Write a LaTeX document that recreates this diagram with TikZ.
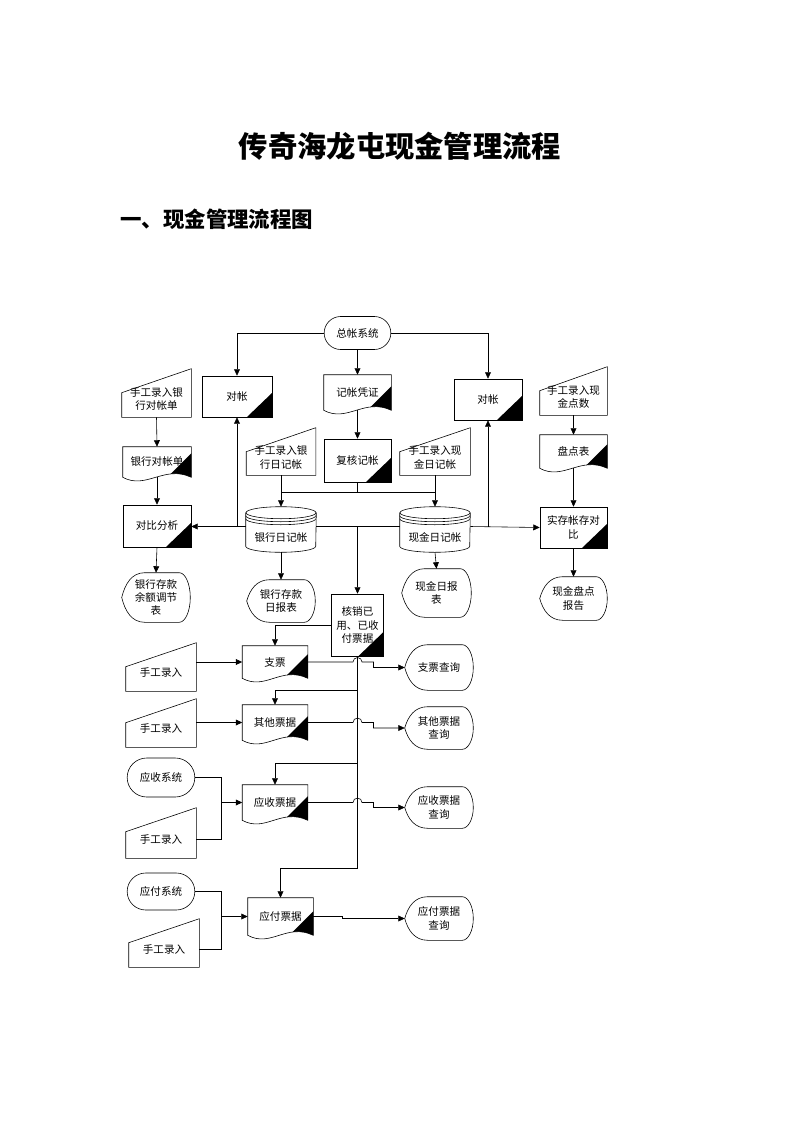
\documentclass[tikz,border=0pt]{standalone}
\usepackage{fontspec}
\setmainfont{Noto Sans CJK SC}
\usetikzlibrary{arrows.meta,calc,shapes.misc}

\tikzset{
  sz/.style 2 args={minimum width=#1*0.03cm, minimum height=#2*0.03cm},
  box/.style={rectangle, inner sep=1pt, align=center, font=\fontsize{9}{11.4}\selectfont},
  proc/.style={box, draw, path picture={\fill (path picture bounding box.south east) -- ++(-0.75cm,0cm) -- ++(0.75cm,0.72cm) -- cycle;}},
  term/.style={box, draw, rounded rectangle},
  disk/.style={box, sz={70}{39}, text height=9mm, text depth=0.3mm},
  arr/.style={-{Triangle[length=5.5pt,width=5pt]}},
}

% outlines drawn round plain named nodes
\newcommand\docpath[1]{(#1.south west) -- (#1.north west) -- (#1.north east) -- (#1.south east)
  .. controls ($(#1.south east)+(-0.8cm,0.38cm)$) and ($(#1.south west)+(0.7cm,-0.38cm)$) .. (#1.south west) -- cycle}
\newcommand\docshape[1]{%
  \begin{scope}
    \clip \docpath{#1};
    \fill ($(#1.south east)+(0cm,0.72cm)$) -- ++(-1.5cm,-1.5cm) -- ++(1.6cm,0cm) -- ++(0cm,1.5cm) -- cycle;
  \end{scope}
  \draw \docpath{#1};}
\newcommand\manshape[1]{\draw (#1.south west) -- (#1.south east) -- ($(#1.north east)+(0cm,0.36cm)$) -- ($(#1.north west)+(0cm,-0.36cm)$) -- cycle;}
\newcommand\dispshape[1]{%
  \draw (#1.west) .. controls ($(#1.west)!0.55!(#1.north west)+(0.1cm,0cm)$) and ($(#1.north west)+(0.3cm,0cm)$) .. ($(#1.north west)+(0.69cm,0cm)$)
    -- ($(#1.north east)+(-0.33cm,0cm)$)
    .. controls ($(#1.north east)+(-0.15cm,0cm)$) and ($(#1.east)!0.55!(#1.north east)$) .. (#1.east)
    .. controls ($(#1.east)!0.55!(#1.south east)$) and ($(#1.south east)+(-0.15cm,0cm)$) .. ($(#1.south east)+(-0.33cm,0cm)$)
    -- ($(#1.south west)+(0.69cm,0cm)$)
    .. controls ($(#1.south west)+(0.3cm,0cm)$) and ($(#1.west)!0.55!(#1.south west)+(0.1cm,0cm)$) .. (#1.west) -- cycle;}
\newcommand\diskshape[1]{%
  \draw ($(#1.north west)+(0cm,-0.18cm)$) -- (#1.south west) arc[start angle=180, end angle=360, x radius=1.05cm, y radius=0.18cm] -- ($(#1.north east)+(0cm,-0.18cm)$);
  \draw ($(#1.north)+(0cm,-0.18cm)$) ellipse [x radius=1.05cm, y radius=0.18cm];
  \draw ($(#1.north west)+(0cm,-0.27cm)$) arc[start angle=180, end angle=360, x radius=1.05cm, y radius=0.18cm];
  \draw ($(#1.north west)+(0cm,-0.36cm)$) arc[start angle=180, end angle=360, x radius=1.05cm, y radius=0.18cm];}

\begin{document}
\begin{tikzpicture}[x=0.03cm, y=-0.03cm, line width=0.5pt]
	\useasboundingbox (0,0) rectangle (800,1132);
	\node[font=\fontsize{25}{30}\selectfont\bfseries] (title) at (400,146) {传奇海龙屯现金管理流程};
	\node[anchor=west, inner sep=0pt, font=\fontsize{18.3}{22}\selectfont\bfseries] (subtitle) at (120,219) {一、现金管理流程图};

	% top row
	\node[term, sz={69}{33}] (zz) at (357.5,333) {总帐系统};
	\node[proc, sz={70}{41}] (dz1) at (237,396.5) {对帐};
	\node[box, sz={67}{35}] (pz) at (357.5,392.5) {记帐凭证}; \docshape{pz}
	\node[proc, sz={68}{41}] (dz2) at (488,399.5) {对帐};
	\node[box, sz={69}{36}] (sg1) at (156.5,399) {手工录入银\\行对帐单}; \manshape{sg1}
	\node[box, sz={67}{36}] (sgxd) at (573.5,397) {手工录入现\\金点数}; \manshape{sgxd}

	% journals
	\node[box, sz={68}{30}] (yhd) at (157,462) {银行对帐单}; \docshape{yhd}
	\node[box, sz={69}{35}] (sgyh) at (281,457.5) {手工录入银\\行日记帐}; \manshape{sgyh}
	\node[proc, sz={67}{43}] (fh) at (357.5,460.5) {复核记帐};
	\node[box, sz={70}{35}] (sgxj) at (435,457.5) {手工录入现\\金日记帐}; \manshape{sgxj}
	\node[box, sz={67}{33}] (pdb) at (573.5,451.5) {盘点表}; \docshape{pdb}
	\node[proc, sz={68}{42}] (dbfx) at (157,526) {对比分析};
	\node[disk] (yhr) at (281,526.5) {银行日记帐}; \diskshape{yhr}
	\node[disk] (xjr) at (435,526.5) {现金日记帐}; \diskshape{xjr}
	\node[proc, sz={67}{41}] (sc) at (573.5,527.5) {实存帐存对\\比};

	% reports
	\node[box, sz={68}{49}] (yhye) at (156,597.5) {银行存款\\余额调节\\表}; \dispshape{yhye}
	\node[box, sz={68}{42}] (yhrb) at (281,601) {银行存款\\日报表}; \dispshape{yhrb}
	\node[box, sz={69}{48}] (xjrb) at (436.5,593) {现金日报\\表}; \dispshape{xjrb}
	\node[box, sz={67}{43}] (xjpd) at (573.5,598.5) {现金盘点\\报告}; \dispshape{xjpd}
	\node[proc, sz={52}{62}] (hx) at (357.5,625) {核销已\\用、已收\\付票据};

	% bills
	\node[box, sz={65}{32}] (zp) at (275,662) {支票}; \docshape{zp}
	\node[box, sz={65}{35}] (qt) at (275,722.5) {其他票据}; \docshape{qt}
	\node[box, sz={65}{35}] (ys) at (275,802.5) {应收票据}; \docshape{ys}
	\node[box, sz={65}{37}] (yf) at (280.5,916.5) {应付票据}; \docshape{yf}
	\node[box, sz={70}{36}] (sgA) at (161,673) {手工录入}; \manshape{sgA}
	\node[box, sz={70}{36}] (sgB) at (161,729) {手工录入}; \manshape{sgB}
	\node[term, sz={70}{39}] (ysxt) at (161,777.5) {应收系统};
	\node[box, sz={70}{38}] (sgC) at (161,839) {手工录入}; \manshape{sgC}
	\node[term, sz={70}{37}] (yfxt) at (161,891.5) {应付系统};
	\node[box, sz={70}{36}] (sgD) at (164,949) {手工录入}; \manshape{sgD}
	\node[box, sz={68}{45}] (zpcx) at (439,667.5) {支票查询}; \dispshape{zpcx}
	\node[box, sz={68}{42}] (qtcx) at (439,728) {其他票据\\查询}; \dispshape{qtcx}
	\node[box, sz={68}{41}] (yscx) at (439,807.5) {应收票据\\查询}; \dispshape{yscx}
	\node[box, sz={68}{43}] (yfcx) at (439,918.5) {应付票据\\查询}; \dispshape{yfcx}

	% connectors
	\draw[arr] (zz.west) -| (dz1.north);
	\draw[arr] (zz.east) -| (dz2.north);
	\draw[arr] (zz.south) -- (pz.north);
	\draw[arr] (pz.south) -- (fh.north);
	\draw[arr] (sg1.south) -- (yhd.north);
	\draw[arr] (yhd.south) -- (dbfx.north);
	\draw[arr] (dbfx.south) -- (yhye.north);
	\coordinate (jn) at (357.5,492);
	\draw (fh.south) -- (jn);
	\draw (jn -| yhr.north) -- (jn -| xjr.north);
	\draw[arr] (sgyh.south) -- (yhr.north);
	\draw[arr] (sgxj.south) -- (xjr.north);
	\draw[arr] (yhr.west) -- (yhr.west -| dbfx.east);
	\draw[arr] (yhr.west -| dz1.south) -- (dz1.south);
	\draw (yhr.east) -- (xjr.west);
	\draw[arr] (yhr.east -| hx.north) -- (hx.north);
	\draw[arr] (xjr.east) -- (sc.west);
	\draw[arr] (xjr.east -| dz2.south) -- (dz2.south);
	\draw[arr] ($(yhr.south)+(0cm,-0.18cm)$) -- (yhrb.north);
	\draw[arr] ($(xjr.south)+(0cm,-0.18cm)$) -- (xjrb.north);
	\draw[arr] (sgxd.south) -- (pdb.north);
	\draw[arr] (pdb.south) -- (sc.north);
	\draw[arr] (sc.south) -- (xjpd.north);

	\coordinate (b1) at (357.5,690);
	\coordinate (b2) at (357.5,763);
	\coordinate (b3) at (357.5,868);
	\draw[arr] (hx.west) -| (zp.north);
	\draw (hx.south) -- (b3);
	\draw[arr] (b1) -| (qt.north);
	\draw[arr] (b2) -| (ys.north);
	\draw[arr] (b3) -| (yf.north);

	\draw[arr] (zp.west -| sgA.east) -- (zp.west);
	\draw[arr] (qt.west -| sgB.east) -- (qt.west);
	\draw (ysxt.east) -| ($(ys.west)+(-21,0)$) |- (sgC.east);
	\draw[arr] ($(ys.west)+(-21,0)$) -- (ys.west);
	\draw (yfxt.east) -| ($(yf.west)+(-26,0)$) |- (sgD.east);
	\draw[arr] ($(yf.west)+(-26,0)$) -- (yf.west);

	\draw[arr] (zp.east) -- ($(zp.east -| hx.south)+(-4.5,0)$) arc[start angle=180, end angle=0, radius=0.135cm] -- ($(zp.east -| hx.south)+(16,0)$) |- (zpcx.west);
	\draw[arr] (qt.east) -- ($(qt.east -| hx.south)+(-4.5,0)$) arc[start angle=180, end angle=0, radius=0.135cm] -- ($(qt.east -| hx.south)+(16,0)$) |- (qtcx.west);
	\draw[arr] (ys.east) -- ($(ys.east -| hx.south)+(-4.5,0)$) arc[start angle=180, end angle=0, radius=0.135cm] -- ($(ys.east -| hx.south)+(16,0)$) |- (yscx.west);
	\draw[arr] (yf.east) -- ++(29,0) |- (yfcx.west);
\end{tikzpicture}
\end{document}
